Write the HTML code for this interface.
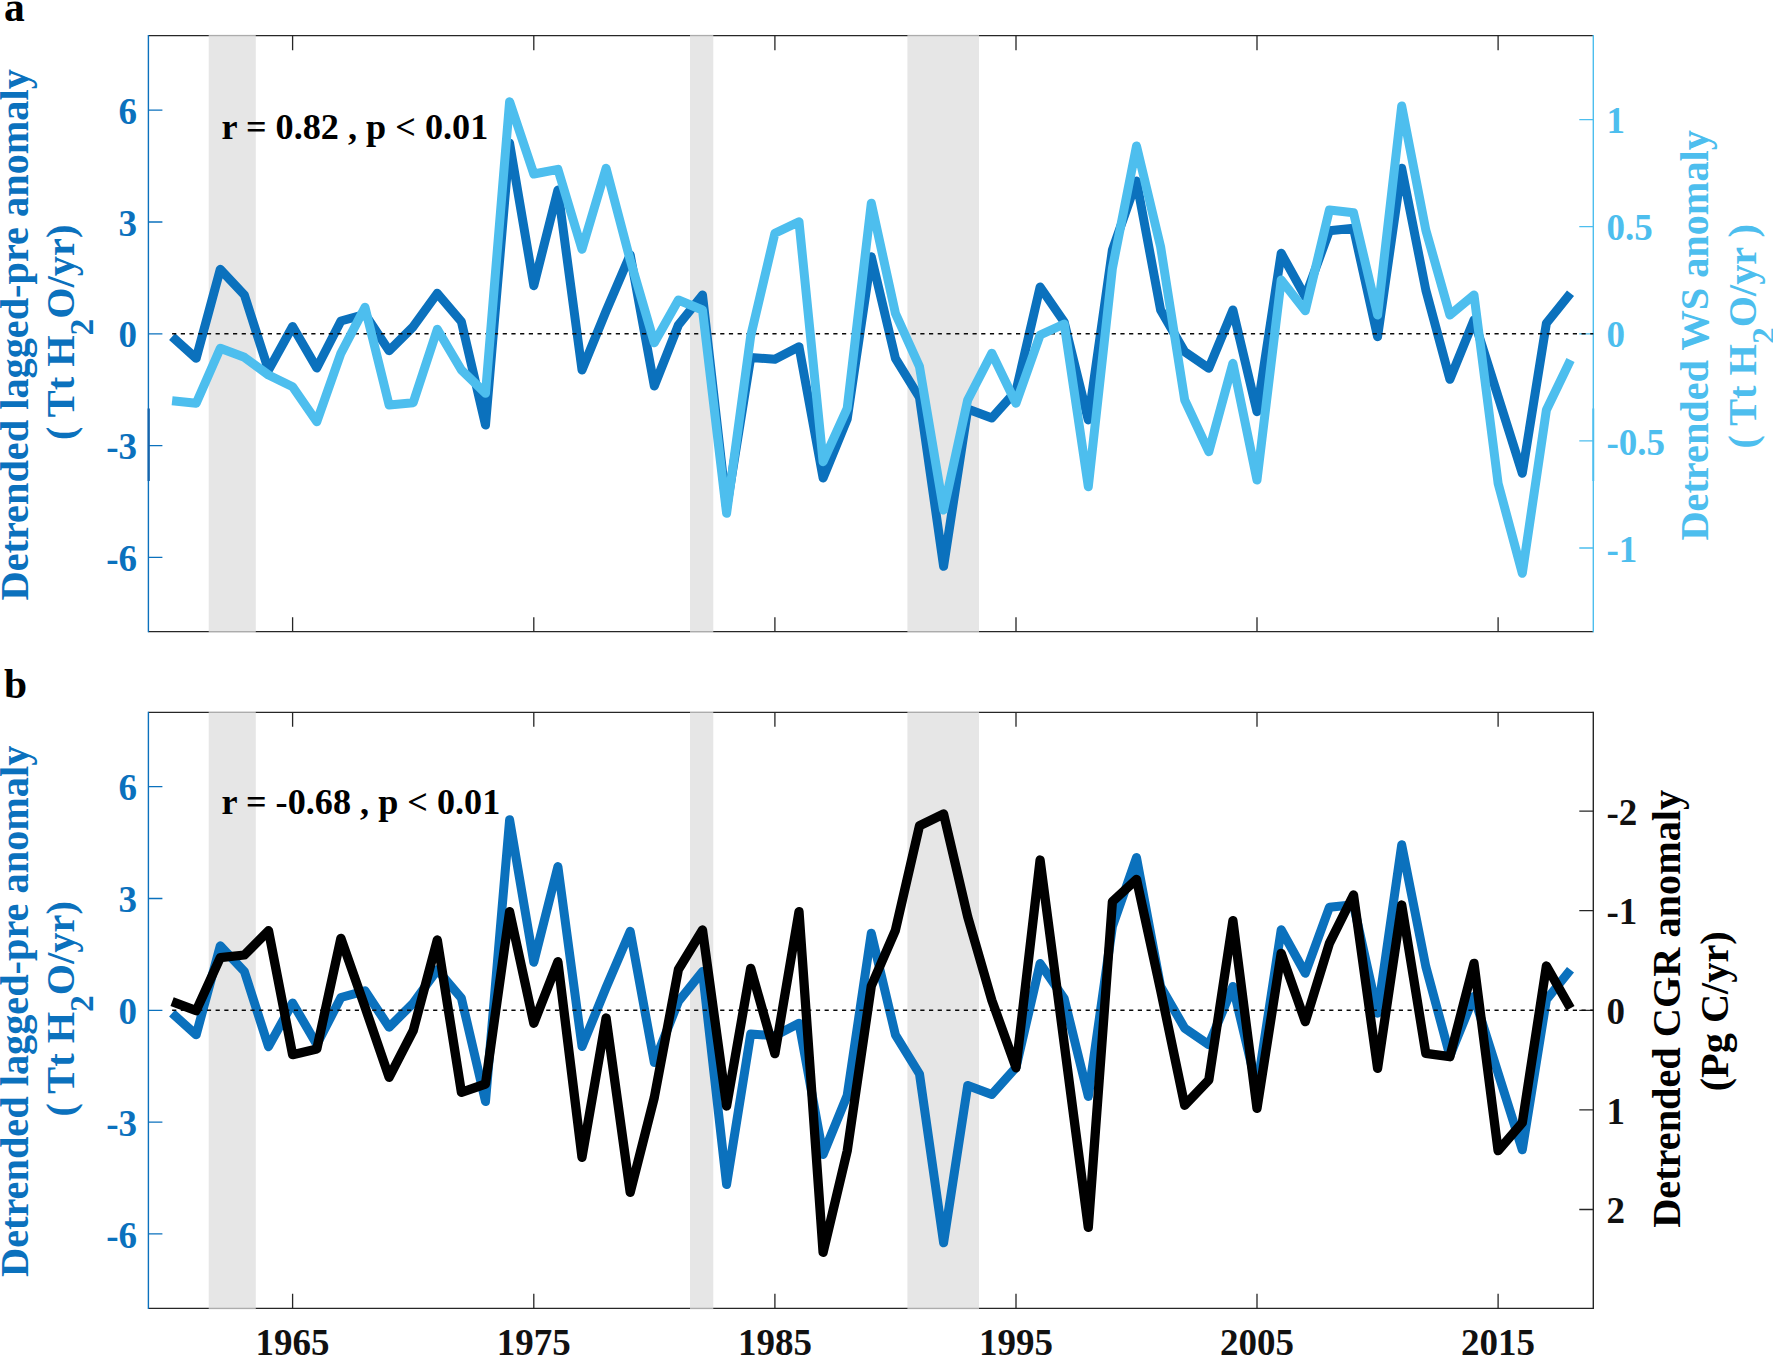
<!DOCTYPE html><html><head><meta charset="utf-8"><title>Figure</title><style>html,body{margin:0;padding:0;background:#fff}svg{display:block}text{font-family:"Liberation Serif","Times New Roman",serif;font-weight:bold}</style></head><body>
<svg width="1773" height="1356" viewBox="0 0 1773 1356">
<rect width="1773" height="1356" fill="#fff"/>
<rect x="208.7" y="36.5" width="47.1" height="596.0" fill="#e6e6e6"/>
<rect x="690.0" y="36.5" width="23.3" height="596.0" fill="#e6e6e6"/>
<rect x="907.4" y="36.5" width="71.6" height="596.0" fill="#e6e6e6"/>
<path d="M148.4,35.7 H1593.3 M148.4,631.7 H1593.3" stroke="#262626" stroke-width="1.3" fill="none"/>
<path d="M208.7,35.7 H255.8 M208.7,631.7 H255.8" stroke="#e6e6e6" stroke-width="2.4" stroke-opacity="0.7" fill="none"/>
<path d="M690.0,35.7 H713.3 M690.0,631.7 H713.3" stroke="#e6e6e6" stroke-width="2.4" stroke-opacity="0.7" fill="none"/>
<path d="M907.4,35.7 H979.0 M907.4,631.7 H979.0" stroke="#e6e6e6" stroke-width="2.4" stroke-opacity="0.7" fill="none"/>
<path d="M292.6,35.7 v14.5 M292.6,631.7 v-14.5 M533.8,35.7 v14.5 M533.8,631.7 v-14.5 M774.9,35.7 v14.5 M774.9,631.7 v-14.5 M1016.0,35.7 v14.5 M1016.0,631.7 v-14.5 M1257.0,35.7 v14.5 M1257.0,631.7 v-14.5 M1498.1,35.7 v14.5 M1498.1,631.7 v-14.5" stroke="#262626" stroke-width="1.3" fill="none"/>
<path d="M148.4,35.1 V632.3000000000001" stroke="#0b71bd" stroke-width="1.4" fill="none"/>
<path d="M148.4,110.2 h14 M148.4,222.0 h14 M148.4,333.8 h14 M148.4,445.6 h14 M148.4,557.4 h14" stroke="#0b71bd" stroke-width="1.3" fill="none"/>
<text x="137" y="123.8" font-size="37" text-anchor="end" fill="#0b71bd">6</text>
<text x="137" y="235.6" font-size="37" text-anchor="end" fill="#0b71bd">3</text>
<text x="137" y="347.4" font-size="37" text-anchor="end" fill="#0b71bd">0</text>
<text x="137" y="459.2" font-size="37" text-anchor="end" fill="#0b71bd">-3</text>
<text x="137" y="571.0" font-size="37" text-anchor="end" fill="#0b71bd">-6</text>
<path d="M1593.3,35.1 V632.3000000000001" stroke="#4dbeee" stroke-width="1.4" fill="none"/>
<path d="M1593.3,119.6 h-14 M1593.3,226.7 h-14 M1593.3,333.8 h-14 M1593.3,440.9 h-14 M1593.3,548.0 h-14" stroke="#4dbeee" stroke-width="1.3" fill="none"/>
<text x="1606.5" y="133.2" font-size="37" fill="#4dbeee">1</text>
<text x="1606.5" y="240.3" font-size="37" fill="#4dbeee">0.5</text>
<text x="1606.5" y="347.4" font-size="37" fill="#4dbeee">0</text>
<text x="1606.5" y="454.5" font-size="37" fill="#4dbeee">-0.5</text>
<text x="1606.5" y="561.6" font-size="37" fill="#4dbeee">-1</text>
<path d="M148.70000000000002,408.5 V481" stroke="#1565ad" stroke-width="2.3" fill="none"/>
<path d="M1593.3,408.5 V481" stroke="#4dbeee" stroke-width="1.9" fill="none"/>
<path d="M172.1,336.7 L196.2,358.3 L220.3,269.3 L244.4,295.0 L268.5,370.2 L292.6,326.5 L316.8,368.0 L340.9,321.0 L365.0,314.3 L389.1,350.7 L413.2,326.7 L437.3,293.3 L461.4,321.7 L485.5,425.0 L509.6,143.3 L533.8,285.7 L557.9,190.0 L582.0,370.0 L606.1,311.0 L630.2,254.8 L654.3,386.0 L678.4,325.0 L702.5,295.0 L726.6,508.0 L750.7,357.5 L774.9,359.3 L799.0,346.7 L823.1,478.0 L847.2,419.0 L871.3,256.7 L895.4,358.3 L919.5,397.5 L943.6,566.3 L967.7,409.0 L991.8,418.0 L1016.0,391.0 L1040.1,287.0 L1064.2,322.0 L1088.3,420.0 L1112.4,250.0 L1136.5,181.0 L1160.6,310.0 L1184.7,351.7 L1208.8,368.3 L1232.9,310.0 L1257.0,411.7 L1281.2,253.3 L1305.3,296.7 L1329.4,230.7 L1353.5,228.3 L1377.6,336.7 L1401.7,168.3 L1425.8,290.0 L1449.9,379.3 L1474.0,320.0 L1498.1,396.7 L1522.3,473.3 L1546.4,323.3 L1570.5,293.3" stroke="#0b71bd" stroke-width="9" fill="none" stroke-linejoin="round"/>
<path d="M172.1,333.8 H1593.3" stroke="#0a0a0a" stroke-width="1.6" stroke-dasharray="4.2,4.5" fill="none"/>
<path d="M172.1,400.7 L196.2,403.3 L220.3,348.3 L244.4,357.3 L268.5,375.0 L292.6,386.7 L316.8,421.7 L340.9,353.3 L365.0,307.3 L389.1,405.0 L413.2,402.7 L437.3,329.3 L461.4,370.0 L485.5,393.3 L509.6,101.7 L533.8,174.0 L557.9,169.3 L582.0,249.3 L606.1,168.3 L630.2,260.0 L654.3,342.7 L678.4,300.0 L702.5,310.0 L726.6,513.3 L750.7,336.0 L774.9,233.3 L799.0,221.7 L823.1,461.7 L847.2,408.3 L871.3,203.3 L895.4,313.3 L919.5,366.7 L943.6,510.0 L967.7,400.0 L991.8,353.3 L1016.0,403.3 L1040.1,335.0 L1064.2,324.0 L1088.3,486.7 L1112.4,268.3 L1136.5,146.0 L1160.6,246.7 L1184.7,400.0 L1208.8,451.7 L1232.9,363.3 L1257.0,480.0 L1281.2,280.0 L1305.3,310.7 L1329.4,210.0 L1353.5,212.7 L1377.6,315.0 L1401.7,106.0 L1425.8,230.0 L1449.9,315.0 L1474.0,295.0 L1498.1,483.3 L1522.3,573.3 L1546.4,410.0 L1570.5,360.0" stroke="#4dbeee" stroke-width="9" fill="none" stroke-linejoin="round"/>
<rect x="208.7" y="713.1" width="47.1" height="596.0" fill="#e6e6e6"/>
<rect x="690.0" y="713.1" width="23.3" height="596.0" fill="#e6e6e6"/>
<rect x="907.4" y="713.1" width="71.6" height="596.0" fill="#e6e6e6"/>
<path d="M148.4,712.3 H1593.3 M148.4,1308.3 H1593.3" stroke="#262626" stroke-width="1.3" fill="none"/>
<path d="M208.7,712.3 H255.8 M208.7,1308.3 H255.8" stroke="#e6e6e6" stroke-width="2.4" stroke-opacity="0.7" fill="none"/>
<path d="M690.0,712.3 H713.3 M690.0,1308.3 H713.3" stroke="#e6e6e6" stroke-width="2.4" stroke-opacity="0.7" fill="none"/>
<path d="M907.4,712.3 H979.0 M907.4,1308.3 H979.0" stroke="#e6e6e6" stroke-width="2.4" stroke-opacity="0.7" fill="none"/>
<path d="M292.6,712.3 v14.5 M292.6,1308.3 v-14.5 M533.8,712.3 v14.5 M533.8,1308.3 v-14.5 M774.9,712.3 v14.5 M774.9,1308.3 v-14.5 M1016.0,712.3 v14.5 M1016.0,1308.3 v-14.5 M1257.0,712.3 v14.5 M1257.0,1308.3 v-14.5 M1498.1,712.3 v14.5 M1498.1,1308.3 v-14.5" stroke="#262626" stroke-width="1.3" fill="none"/>
<path d="M148.4,711.6999999999999 V1308.8999999999999" stroke="#0b71bd" stroke-width="1.4" fill="none"/>
<path d="M148.4,786.7 h14 M148.4,898.5 h14 M148.4,1010.3 h14 M148.4,1122.1 h14 M148.4,1233.9 h14" stroke="#0b71bd" stroke-width="1.3" fill="none"/>
<text x="137" y="800.3" font-size="37" text-anchor="end" fill="#0b71bd">6</text>
<text x="137" y="912.1" font-size="37" text-anchor="end" fill="#0b71bd">3</text>
<text x="137" y="1023.9" font-size="37" text-anchor="end" fill="#0b71bd">0</text>
<text x="137" y="1135.7" font-size="37" text-anchor="end" fill="#0b71bd">-3</text>
<text x="137" y="1247.5" font-size="37" text-anchor="end" fill="#0b71bd">-6</text>
<path d="M1593.3,711.6999999999999 V1308.8999999999999" stroke="#262626" stroke-width="1.4" fill="none"/>
<path d="M1593.3,811.1 h-14 M1593.3,910.7 h-14 M1593.3,1010.3 h-14 M1593.3,1109.9 h-14 M1593.3,1209.5 h-14" stroke="#262626" stroke-width="1.3" fill="none"/>
<text x="1606.5" y="824.7" font-size="37" fill="#111">-2</text>
<text x="1606.5" y="924.3" font-size="37" fill="#111">-1</text>
<text x="1606.5" y="1023.9" font-size="37" fill="#111">0</text>
<text x="1606.5" y="1123.5" font-size="37" fill="#111">1</text>
<text x="1606.5" y="1223.1" font-size="37" fill="#111">2</text>
<path d="M172.1,1013.2 L196.2,1034.8 L220.3,945.8 L244.4,971.5 L268.5,1046.7 L292.6,1003.0 L316.8,1044.5 L340.9,997.5 L365.0,990.8 L389.1,1027.2 L413.2,1003.2 L437.3,969.8 L461.4,998.2 L485.5,1101.5 L509.6,819.8 L533.8,962.2 L557.9,866.5 L582.0,1046.5 L606.1,987.5 L630.2,931.3 L654.3,1062.5 L678.4,1001.5 L702.5,971.5 L726.6,1184.5 L750.7,1034.0 L774.9,1035.8 L799.0,1023.2 L823.1,1154.5 L847.2,1095.5 L871.3,933.2 L895.4,1034.8 L919.5,1074.0 L943.6,1242.8 L967.7,1085.5 L991.8,1094.5 L1016.0,1067.5 L1040.1,963.5 L1064.2,998.5 L1088.3,1096.5 L1112.4,926.5 L1136.5,857.5 L1160.6,986.5 L1184.7,1028.2 L1208.8,1044.8 L1232.9,986.5 L1257.0,1088.2 L1281.2,929.8 L1305.3,973.2 L1329.4,907.2 L1353.5,904.8 L1377.6,1013.2 L1401.7,844.8 L1425.8,966.5 L1449.9,1055.8 L1474.0,996.5 L1498.1,1073.2 L1522.3,1149.8 L1546.4,999.8 L1570.5,969.8" stroke="#0b71bd" stroke-width="9" fill="none" stroke-linejoin="round"/>
<path d="M172.1,1010.3 H1593.3" stroke="#0a0a0a" stroke-width="1.6" stroke-dasharray="4.2,4.5" fill="none"/>
<path d="M172.1,1001.7 L196.2,1010.7 L220.3,957.7 L244.4,955.0 L268.5,930.7 L292.6,1054.7 L316.8,1049.0 L340.9,938.3 L365.0,1007.0 L389.1,1077.3 L413.2,1030.7 L437.3,940.0 L461.4,1092.3 L485.5,1084.0 L509.6,911.7 L533.8,1023.3 L557.9,961.7 L582.0,1157.3 L606.1,1018.0 L630.2,1192.3 L654.3,1097.5 L678.4,969.5 L702.5,930.0 L726.6,1106.0 L750.7,968.3 L774.9,1053.7 L799.0,911.7 L823.1,1252.3 L847.2,1151.0 L871.3,986.0 L895.4,930.3 L919.5,825.7 L943.6,814.0 L967.7,916.7 L991.8,1000.3 L1016.0,1067.8 L1040.1,860.0 L1064.2,1043.7 L1088.3,1227.3 L1112.4,901.7 L1136.5,879.3 L1160.6,990.0 L1184.7,1105.3 L1208.8,1080.0 L1232.9,920.7 L1257.0,1108.3 L1281.2,953.3 L1305.3,1021.7 L1329.4,943.3 L1353.5,895.0 L1377.6,1068.3 L1401.7,905.0 L1425.8,1053.3 L1449.9,1056.7 L1474.0,963.3 L1498.1,1150.7 L1522.3,1122.7 L1546.4,966.0 L1570.5,1008.3" stroke="#000" stroke-width="9.3" fill="none" stroke-linejoin="round"/>
<text x="292.6" y="1354.5" font-size="37" text-anchor="middle" fill="#111">1965</text>
<text x="533.8" y="1354.5" font-size="37" text-anchor="middle" fill="#111">1975</text>
<text x="774.9" y="1354.5" font-size="37" text-anchor="middle" fill="#111">1985</text>
<text x="1016.0" y="1354.5" font-size="37" text-anchor="middle" fill="#111">1995</text>
<text x="1257.0" y="1354.5" font-size="37" text-anchor="middle" fill="#111">2005</text>
<text x="1498.1" y="1354.5" font-size="37" text-anchor="middle" fill="#111">2015</text>
<text x="221.5" y="138.5" font-size="36.2" fill="#000">r = 0.82 , p &lt; 0.01</text>
<text x="221.5" y="813.5" font-size="36.2" fill="#000">r = -0.68 , p &lt; 0.01</text>
<text x="4" y="21" font-size="41.5" fill="#000">a</text>
<text x="4" y="698" font-size="41.5" fill="#000">b</text>
<text transform="translate(28.1,334.8) rotate(-90)" font-size="40.3" text-anchor="middle" fill="#0b71bd">Detrended lagged-pre anomaly</text>
<text transform="translate(73.7,332.3) rotate(-90)" font-size="40.3" text-anchor="middle" fill="#0b71bd">( Tt H<tspan font-size="33.5" dy="19">2</tspan><tspan dy="-19">O/yr)</tspan></text>
<text transform="translate(28.1,1011.3) rotate(-90)" font-size="40.3" text-anchor="middle" fill="#0b71bd">Detrended lagged-pre anomaly</text>
<text transform="translate(73.7,1008.8) rotate(-90)" font-size="40.3" text-anchor="middle" fill="#0b71bd">( Tt H<tspan font-size="33.5" dy="19">2</tspan><tspan dy="-19">O/yr)</tspan></text>
<text transform="translate(1707.7,335.3) rotate(-90)" font-size="40.3" text-anchor="middle" fill="#4dbeee">Detrended WS anomaly</text>
<text transform="translate(1756,336.3) rotate(-90)" font-size="40.3" text-anchor="middle" fill="#4dbeee">( Tt H<tspan font-size="33.5" dy="19">2</tspan><tspan dy="-19">O/yr )</tspan></text>
<text transform="translate(1679.8,1008.8) rotate(-90)" font-size="40.3" text-anchor="middle" fill="#000">Detrended CGR anomaly</text>
<text transform="translate(1727.8,1011.3) rotate(-90)" font-size="40.3" text-anchor="middle" fill="#000">(Pg C/yr)</text>
</svg></body></html>
